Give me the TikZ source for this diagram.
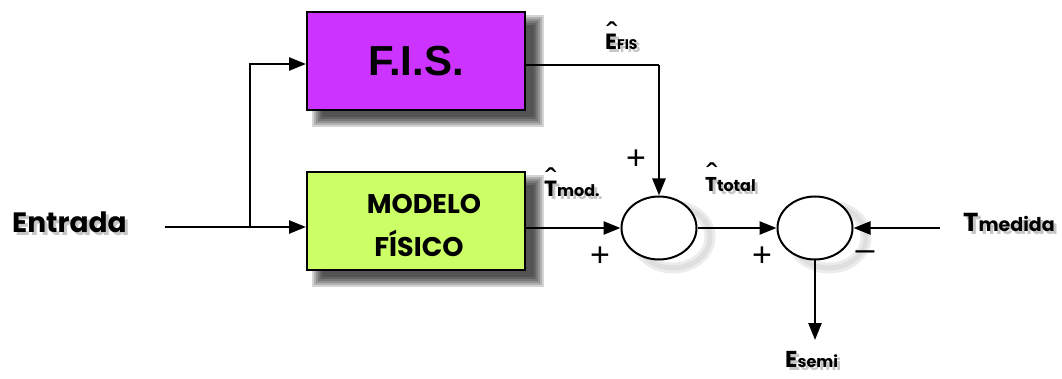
\documentclass[tikz,border=0pt]{standalone}
\usepackage{fontspec}
\newfontfamily\pop{Poppins}
\newfontfamily\arl{Liberation Sans}
\usetikzlibrary{arrows.meta,shapes.geometric,calc}
\definecolor{fismag}{HTML}{CC33FF}
\definecolor{modgreen}{HTML}{CCFF66}
\newcommand{\shlabel}[4]{% name, position, anchor, content
  \node[anchor=#3,text=gray,opacity=0.45,inner sep=0pt] at ($#2+(3,3)$) {#4};
  \node[anchor=#3,inner sep=0pt] (#1) at #2 {#4};}
\newcommand{\hatmark}[2]{% name, position
  \node[inner sep=0pt,font=\arl\fontsize{34}{34}\selectfont] (#1) at #2 {ˆ};}
\begin{document}
\begin{tikzpicture}[x=1pt,y=-1pt,
  line/.style={line width=2.5pt},
  arr/.style={line width=2.5pt,-{Triangle[length=17pt,width=13pt]}},
  blockbox/.style={draw=black,line width=2pt,minimum width=218pt,minimum height=98pt,inner sep=0pt},
  sumnode/.style={ellipse,draw=black,line width=2pt,minimum width=75pt,minimum height=63pt,inner sep=0pt},
  signlbl/.style={font=\arl\fontsize{34}{34}\selectfont,inner sep=0pt}]
\useasboundingbox (0,0) rectangle (1062,379);
% box shadows
\foreach \d in {7,5,3,1,-1,-3}{
  \fill[black,opacity=0.17] (319-\d,22-\d) rectangle (537+\d,120+\d);
  \fill[black,opacity=0.17] (319-\d,182-\d) rectangle (537+\d,280+\d);}
% sum shadows
\foreach \cx in {673,829}{
  \draw[gray!15,line width=11pt] (\cx,237) ellipse (37pt and 31pt);
  \draw[gray!25,line width=5pt] (\cx,237) ellipse (37pt and 31pt);}
% blocks
\node[blockbox,fill=fismag] (fis) at (416,61) {\arl\bfseries\fontsize{42}{42}\selectfont F.I.S.};
\node[blockbox,fill=modgreen] (mod) at (416,221) {};
\node[inner sep=0pt,font=\pop\bfseries\fontsize{27}{27}\selectfont] (modA) at (424,204) {MODELO};
\node[inner sep=0pt,font=\pop\bfseries\fontsize{27}{27}\selectfont] (modB) at (419,243) {FÍSICO};
% sums
\node[sumnode,fill=white] (s1) at (659,228) {};
\node[sumnode,fill=white] (s2) at (815,228) {};
% coordinates
\coordinate (in) at (165,227);
\coordinate (br) at (250,227);
\coordinate (fiscorner) at (250,64);
\coordinate (fisout) at (659,65);
\coordinate (meas) at (940,228);
\coordinate (eout) at (815,340);
% connectors
\draw[arr] (in) -- (in -| mod.west);
\draw[arr] (br) -- (fiscorner) -- (fiscorner -| fis.west);
\draw[line] (fisout -| fis.east) -- (fisout);
\draw[arr] (fisout) -- (s1.north);
\draw[arr] (s1.west -| mod.east) -- (s1.west);
\draw[arr] (s1.east) -- (s2.west);
\draw[arr] (meas) -- (s2.east);
\draw[arr] (s2.south) -- (eout);
% labels
\shlabel{entrada}{(12,233)}{base west}{\pop\bfseries\fontsize{28}{28}\selectfont Entrada}
\shlabel{tmod}{(544,197)}{base west}{\pop\bfseries{\fontsize{22}{22}\selectfont T}{\fontsize{16}{16}\selectfont mod.}}
\hatmark{h1}{(551,180)}
\shlabel{efis}{(605,50)}{base west}{\pop\bfseries{\fontsize{22}{22}\selectfont E}{\fontsize{14}{14}\selectfont FIS}}
\hatmark{h2}{(612,34)}
\shlabel{ttot}{(705,192)}{base west}{\pop\bfseries{\fontsize{20}{20}\selectfont T}{\fontsize{16}{16}\selectfont total}}
\hatmark{h3}{(712,175)}
\shlabel{tmed}{(963,232)}{base west}{\pop\bfseries{\fontsize{26}{26}\selectfont T}{\fontsize{19}{19}\selectfont medida}}
\shlabel{esemi}{(785,367)}{base west}{\pop\bfseries{\fontsize{23}{23}\selectfont E}{\fontsize{16}{16}\selectfont semi}}
\node[signlbl] (p1) at (636,160) {+};
\node[signlbl] (p2) at (600,257) {+};
\node[signlbl] (p3) at (762,257) {+};
\node[signlbl] (m1) at (865,256) {–};
\end{tikzpicture}
\end{document}
